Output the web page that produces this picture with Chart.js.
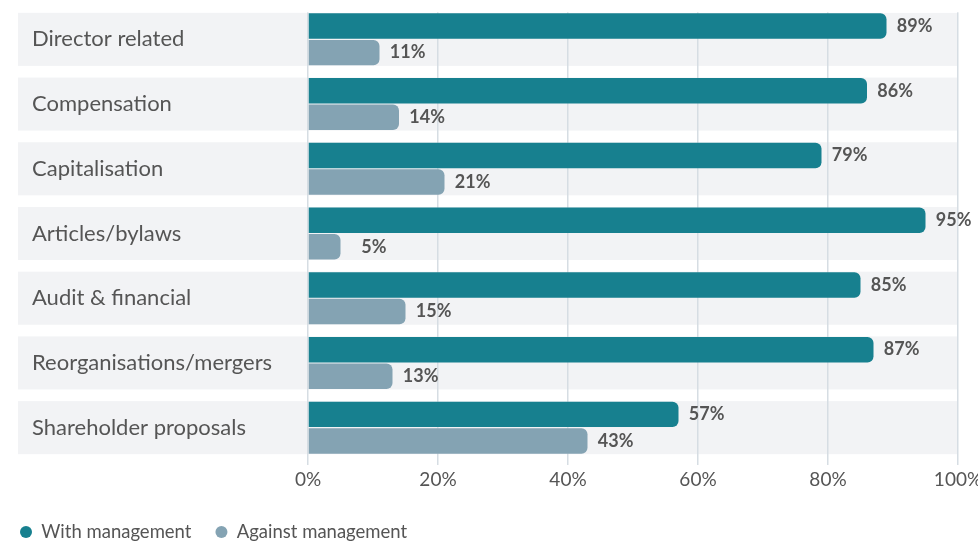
<!DOCTYPE html>
<html lang="en">
<head>
    <meta charset="UTF-8">
    <title>Votes with and against management</title>
    <style>
        * { margin: 0; padding: 0; box-sizing: border-box; }
        body { background: #fff; width: 978px; height: 541px; overflow: hidden; }
        #wrap { position: relative; width: 978px; height: 541px; }
    </style>
</head>
<body>
    <div id="wrap"><canvas id="chart"></canvas></div>

    <script src="https://cdn.jsdelivr.net/npm/chart.js@4.4.1/dist/chart.umd.min.js"></script>
    <script>
        const categories = ['Director related', 'Compensation', 'Capitalisation', 'Articles/bylaws', 'Audit & financial', 'Reorganisations/mergers', 'Shareholder proposals'];
        const withManagement = [89, 86, 79, 95, 85, 87, 57];
        const againstManagement = [11, 14, 21, 5, 15, 13, 43];
        const seriesNames = ['With management', 'Against management'];
        const xTickStep = 20;

        const TEXT = '#555555';
        const FONT = 'Lato, "Open Sans", sans-serif';
        const BAND = 0.8196;

        // grey bands behind each category, plus the category names and value labels
        const bandsPlugin = {
            id: 'bands',
            beforeDraw(chart) {
                const { ctx, chartArea, scales: { y } } = chart;
                const step = y.getPixelForValue(1) - y.getPixelForValue(0);
                const bandH = step * BAND;
                ctx.save();
                ctx.fillStyle = '#f2f3f5';
                categories.forEach((c, i) => {
                    const cy = y.getPixelForValue(i);
                    ctx.fillRect(18, cy - bandH / 2, chartArea.right - 18, bandH);
                });
                ctx.restore();
            },
            beforeDatasetsDraw(chart) {
                const { ctx, chartArea, scales: { y } } = chart;
                const step = y.getPixelForValue(1) - y.getPixelForValue(0);
                const bandH = step * BAND;
                const firstTop = y.getPixelForValue(0) - bandH / 2;
                ctx.save();
                // grid lines start at the first band
                ctx.fillStyle = '#fff';
                ctx.fillRect(chartArea.left - 2, 0, chartArea.right - chartArea.left + 4, firstTop - 0.5);
                ctx.fillStyle = TEXT;
                ctx.font = '22px ' + FONT;
                ctx.textAlign = 'left';
                ctx.textBaseline = 'middle';
                categories.forEach((c, i) => {
                    ctx.fillText(c, 32, y.getPixelForValue(i));
                });
                ctx.restore();
            },
            afterDatasetsDraw(chart) {
                const { ctx } = chart;
                ctx.save();
                ctx.fillStyle = TEXT;
                ctx.font = 'bold 18px ' + FONT;
                ctx.textAlign = 'right';
                ctx.textBaseline = 'middle';
                chart.data.datasets.forEach((ds, di) => {
                    chart.getDatasetMeta(di).data.forEach((bar, i) => {
                        ctx.fillText(ds.data[i] + '%', bar.x + 46, bar.y);
                    });
                });
                ctx.restore();
            }
        };

        new Chart(document.getElementById('chart'), {
            type: 'bar',
            data: {
                labels: categories,
                datasets: [{
                    label: seriesNames[0],
                    data: withManagement,
                    backgroundColor: '#17808f',
                    borderRadius: 6,
                    categoryPercentage: BAND,
                    barPercentage: 0.96
                }, {
                    label: seriesNames[1],
                    data: againstManagement,
                    backgroundColor: '#84a3b3',
                    borderRadius: 6,
                    categoryPercentage: BAND,
                    barPercentage: 0.96
                }]
            },
            options: {
                indexAxis: 'y',
                responsive: true,
                maintainAspectRatio: false,
                animation: false,
                layout: { padding: { left: -4, right: 20, top: 7, bottom: -10.25 } },
                scales: {
                    x: {
                        min: 0,
                        max: 100,
                        afterFit: (s) => {
                            s.height = 38.75;
                            s.paddingLeft = 0;
                            s.paddingRight = 0;
                        },
                        border: { display: false },
                        grid: { color: '#d6dde3', lineWidth: 1.5, tickLength: 5 },
                        ticks: {
                            stepSize: xTickStep,
                            padding: 3,
                            color: TEXT,
                            font: { family: FONT, size: 19 },
                            callback: (v) => v + '%'
                        }
                    },
                    y: {
                        afterFit: (s) => { s.width = 312; },
                        border: { display: false },
                        grid: { display: false },
                        ticks: { display: false }
                    }
                },
                plugins: {
                    tooltip: { enabled: false },
                    legend: {
                        position: 'bottom',
                        align: 'start',
                        labels: {
                            usePointStyle: true,
                            pointStyle: 'circle',
                            boxWidth: 12,
                            boxHeight: 8.5,
                            padding: 24,
                            color: TEXT,
                            font: { family: FONT, size: 18.5 }
                        }
                    }
                }
            },
            plugins: [bandsPlugin]
        });
    </script>
</body>
</html>
